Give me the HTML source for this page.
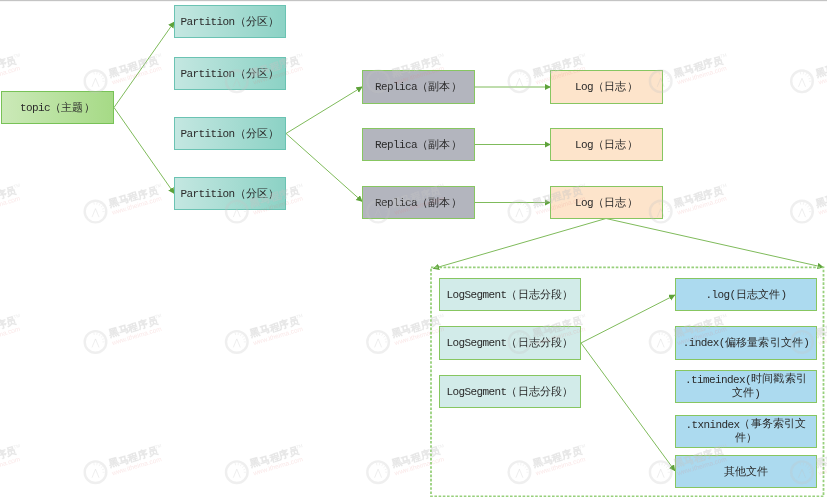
<!DOCTYPE html>
<html><head><meta charset="utf-8">
<style>
html,body{margin:0;padding:0;background:#fff;}
body{width:827px;height:497px;position:relative;overflow:hidden;-webkit-font-smoothing:antialiased;font-family:"Liberation Mono",monospace;color:#333;}
.topline{position:absolute;left:0;top:0;width:827px;height:1px;background:#c4c4c4;}
.topline2{position:absolute;left:0;top:1px;width:827px;height:1px;background:#f6f6f6;}
.b{position:absolute;will-change:transform;box-sizing:border-box;border:1px solid #87c661;display:flex;align-items:center;justify-content:center;text-align:center;font-size:11px;line-height:13px;padding-top:1px;padding-left:0px;color:#2a2a2a;white-space:nowrap;}
.m{font-size:11px;letter-spacing:-0.6px;font-family:"Liberation Mono",monospace;}
.c{font-size:11px;font-family:"Liberation Sans",sans-serif;letter-spacing:0.2px;position:relative;top:-1px;}
.m+.c{margin-left:0px;}
.topic{background:linear-gradient(90deg,#cbe9b8,#a6da86);border-color:#78c257;}
.part{background:linear-gradient(90deg,#c4e7e1,#8cd2c5);border-color:#6bc3b3;}
.rep{background:#b3b5be;}
.log{background:#fde4cb;}
.seg{background:#d2ebe9;}
.file{background:#acdaef;}
svg{position:absolute;left:0;top:0;}
</style></head><body>
<div class="topline"></div><div class="topline2"></div>
<svg width="827" height="497" viewBox="0 0 827 497">
<defs>
<marker id="ah" markerWidth="7" markerHeight="7" refX="6" refY="3.2" orient="auto" markerUnits="userSpaceOnUse">
<path d="M0,0 L6.4,3.2 L0,6.4 z" fill="#5ea23a"/>
</marker>
</defs>
<g stroke="#7fbb5b" stroke-width="1" fill="none">
<line x1="114" y1="107.5" x2="174.3" y2="21.8" marker-end="url(#ah)"/>
<line x1="114" y1="107.5" x2="174.3" y2="193.6" marker-end="url(#ah)"/>
<line x1="286" y1="133.5" x2="362.3" y2="86.8" marker-end="url(#ah)"/>
<line x1="286" y1="133.5" x2="362.3" y2="201.6" marker-end="url(#ah)"/>
<line x1="475" y1="87" x2="550.5" y2="87" marker-end="url(#ah)"/>
<line x1="475" y1="144.5" x2="550.5" y2="144.5" marker-end="url(#ah)"/>
<line x1="475" y1="202.5" x2="550.5" y2="202.5" marker-end="url(#ah)"/>
<line x1="606" y1="218.5" x2="433.2" y2="268.6" marker-end="url(#ah)"/>
<line x1="606" y1="218.5" x2="823.5" y2="267.3" marker-end="url(#ah)"/>
<line x1="581" y1="343" x2="675" y2="295" marker-end="url(#ah)"/>
<line x1="581" y1="343" x2="675" y2="471" marker-end="url(#ah)"/>
</g>
<rect x="431" y="267.4" width="392.5" height="229" fill="none" stroke="#98d07c" stroke-width="1.8" stroke-dasharray="2.6,1.6"/>
</svg>

<div class="b topic" style="left:1px;top:91px;width:113px;height:33px;"><span class="m">topic</span><span class="c">（主题）</span></div>

<div class="b part" style="left:174px;top:5px;width:112px;height:33px;"><span class="m">Partition</span><span class="c">（分区）</span></div>
<div class="b part" style="left:174px;top:57px;width:112px;height:33px;"><span class="m">Partition</span><span class="c">（分区）</span></div>
<div class="b part" style="left:174px;top:117px;width:112px;height:33px;"><span class="m">Partition</span><span class="c">（分区）</span></div>
<div class="b part" style="left:174px;top:177px;width:112px;height:33px;"><span class="m">Partition</span><span class="c">（分区）</span></div>

<div class="b rep" style="left:362px;top:70px;width:113px;height:34px;"><span class="m">Replica</span><span class="c">（副本）</span></div>
<div class="b rep" style="left:362px;top:128px;width:113px;height:33px;"><span class="m">Replica</span><span class="c">（副本）</span></div>
<div class="b rep" style="left:362px;top:186px;width:113px;height:33px;"><span class="m">Replica</span><span class="c">（副本）</span></div>

<div class="b log" style="left:550px;top:70px;width:113px;height:34px;"><span class="m">Log</span><span class="c">（日志）</span></div>
<div class="b log" style="left:550px;top:128px;width:113px;height:33px;"><span class="m">Log</span><span class="c">（日志）</span></div>
<div class="b log" style="left:550px;top:186px;width:113px;height:33px;"><span class="m">Log</span><span class="c">（日志）</span></div>

<div class="b seg" style="left:439px;top:278px;width:142px;height:33px;"><span class="m">LogSegment</span><span class="c">（日志分段）</span></div>
<div class="b seg" style="left:439px;top:326px;width:142px;height:34px;"><span class="m">LogSegment</span><span class="c">（日志分段）</span></div>
<div class="b seg" style="left:439px;top:375px;width:142px;height:33px;"><span class="m">LogSegment</span><span class="c">（日志分段）</span></div>

<div class="b file" style="left:675px;top:278px;width:142px;height:33px;"><span class="m">.log(</span><span class="c">日志文件</span><span class="m">)</span></div>
<div class="b file" style="left:675px;top:326px;width:142px;height:34px;"><span class="m">.index(</span><span class="c">偏移量索引文件</span><span class="m">)</span></div>
<div class="b file" style="left:675px;top:370px;width:142px;height:33px;"><div><span class="m">.timeindex(</span><span class="c">时间戳索引</span><br><span class="c">文件</span><span class="m">)</span></div></div>
<div class="b file" style="left:675px;top:415px;width:142px;height:33px;"><div><span class="m">.txnindex</span><span class="c">（事务索引文</span><br><span class="c">件）</span></div></div>
<div class="b file" style="left:675px;top:455px;width:142px;height:33px;"><span class="c">其他文件</span></div>
<svg style="z-index:5" width="827" height="497" viewBox="0 0 827 497"><defs></defs>
<g transform="translate(95.5,81.3)"><g id="wm">
<circle cx="0" cy="0" r="10.8" fill="none" stroke="rgba(195,195,195,0.27)" stroke-width="2.4"/>
<path d="M-3.5,5.5 L0,-3 L3.5,5.5" fill="none" stroke="rgba(195,195,195,0.28)" stroke-width="1"/><path d="M-1.22,-6.89 L-1.61,-9.16 M1.22,-6.89 L1.61,-9.16 M3.50,-6.06 L4.65,-8.05 M5.36,-4.50 L7.12,-5.98 M6.58,-2.39 L8.74,-3.18 M7.00,0.00 L9.30,0.00" stroke="rgba(195,195,195,0.25)" stroke-width="0.8"/>
<g transform="rotate(-16)">
<text x="15.4" y="-0.5" font-size="9.8" font-weight="bold" fill="rgba(195,195,195,0.24)" stroke="rgba(195,195,195,0.24)" stroke-width="0.5" font-family="Liberation Sans">黑马程序员</text>
<text x="64" y="-6" font-size="4.5" fill="rgba(195,195,195,0.3)" font-family="Liberation Sans">TM</text>
</g>
<text transform="rotate(-16.5)" x="15.6" y="8" font-size="6.6" fill="rgba(230,120,120,0.18)" font-family="Liberation Sans">www.itheima.com</text>
</g></g>
<use href="#wm" x="-45.8" y="81.3"/>
<use href="#wm" x="236.8" y="81.3"/>
<use href="#wm" x="378.1" y="81.3"/>
<use href="#wm" x="519.4" y="81.3"/>
<use href="#wm" x="660.7" y="81.3"/>
<use href="#wm" x="802.0" y="81.3"/>
<use href="#wm" x="-45.8" y="211.6"/>
<use href="#wm" x="95.5" y="211.6"/>
<use href="#wm" x="236.8" y="211.6"/>
<use href="#wm" x="378.1" y="211.6"/>
<use href="#wm" x="519.4" y="211.6"/>
<use href="#wm" x="660.7" y="211.6"/>
<use href="#wm" x="802.0" y="211.6"/>
<use href="#wm" x="-45.8" y="341.9"/>
<use href="#wm" x="95.5" y="341.9"/>
<use href="#wm" x="236.8" y="341.9"/>
<use href="#wm" x="378.1" y="341.9"/>
<use href="#wm" x="519.4" y="341.9"/>
<use href="#wm" x="660.7" y="341.9"/>
<use href="#wm" x="802.0" y="341.9"/>
<use href="#wm" x="-45.8" y="472.2"/>
<use href="#wm" x="95.5" y="472.2"/>
<use href="#wm" x="236.8" y="472.2"/>
<use href="#wm" x="378.1" y="472.2"/>
<use href="#wm" x="519.4" y="472.2"/>
<use href="#wm" x="660.7" y="472.2"/>
<use href="#wm" x="802.0" y="472.2"/>
</svg>
</body></html>
